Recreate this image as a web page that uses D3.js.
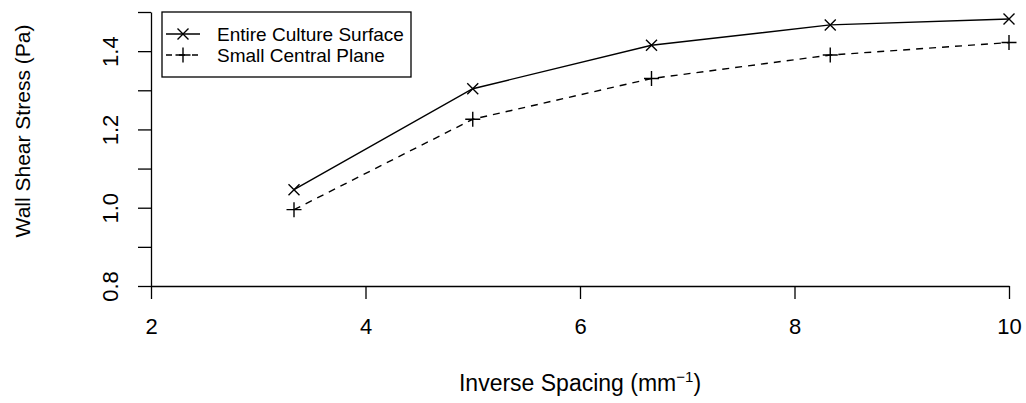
<!DOCTYPE html>
<html>
<head>
<style>
body { margin: 0; background: #fff; }
svg text { font-family: "Liberation Sans", Arial, sans-serif; fill: #000; }
</style>
</head>
<body>
<svg id="chart"></svg>
<script src="https://cdn.jsdelivr.net/npm/d3@7"></script>
<script>
// inverse spacing values (1/mm)
const spacing = [10/3, 5, 20/3, 25/3, 10];
const entireSurface = [1.046, 1.304, 1.415, 1.467, 1.482];
const centralPlane = [0.995, 1.226, 1.330, 1.390, 1.422];
const xTicks = [2, 4, 6, 8, 10];
const yTicks = [0.8, 0.9, 1.0, 1.1, 1.2, 1.3, 1.4, 1.5];
const yLabels = [0.8, 1.0, 1.2, 1.4];
const legendNames = ["Entire Culture Surface", "Small Central Plane"];

const width = 1026, height = 403;
const fsAxis = 22, fsLegend = 19;

const svg = d3.select("#chart").attr("width", width).attr("height", height);

const x = d3.scaleLinear().domain([2, 10]).range([151, 1009]);
const y = d3.scaleLinear().domain([0.8, 1.5]).range([286, 12]);

// x axis
const xAxis = svg.append("g")
    .attr("transform", "translate(0," + y(0.8) + ")")
    .call(d3.axisBottom(x).tickValues(xTicks).tickSize(13).tickSizeOuter(0).tickFormat(d3.format("d")));
xAxis.selectAll("text").attr("y", 0).attr("dy", null)
    .attr("transform", "translate(0,48)")
    .style("font-size", fsAxis + "px");

// y axis, labels rotated like R
const yAxis = svg.append("g")
    .attr("transform", "translate(" + x(2) + ",0)")
    .call(d3.axisLeft(y).tickValues(yTicks).tickSize(13).tickSizeOuter(0)
        .tickFormat(d => yLabels.some(v => Math.abs(v - d) < 1e-9) ? d3.format(".1f")(d) : ""));
yAxis.selectAll("text")
    .attr("x", 0).attr("y", 0).attr("dy", null)
    .attr("text-anchor", "middle")
    .attr("transform", "translate(-33,0) rotate(-90)")
    .style("font-size", fsAxis + "px");

svg.selectAll(".domain, .tick line").attr("stroke", "#000").attr("stroke-width", 1.3);

// axis titles
const xTitle = svg.append("text")
    .attr("x", x(6)).attr("y", 391)
    .attr("text-anchor", "middle")
    .style("font-size", "23px");
xTitle.append("tspan").text("Inverse Spacing (mm");
xTitle.append("tspan").attr("dy", -9).style("font-size", "15px").text("\u22121");
xTitle.append("tspan").attr("dy", 9).text(")");

svg.append("text")
    .attr("transform", "translate(29.5,131) rotate(-90)")
    .attr("text-anchor", "middle")
    .style("font-size", "21px")
    .text("Wall Shear Stress (Pa)");

// series
const line = d3.line().x(d => x(d[0])).y(d => y(d[1]));
const ptsA = spacing.map((s, i) => [s, entireSurface[i]]);
const ptsB = spacing.map((s, i) => [s, centralPlane[i]]);

svg.append("path").datum(ptsA).attr("d", line)
    .attr("fill", "none").attr("stroke", "#000").attr("stroke-width", 1.4);
svg.append("path").datum(ptsB).attr("d", line)
    .attr("fill", "none").attr("stroke", "#000").attr("stroke-width", 1.4)
    .attr("stroke-dasharray", "7,6");

function cross(g, cx, cy) {
    const r = 5.5;
    g.append("path").attr("d", `M${cx-r},${cy-r}L${cx+r},${cy+r}M${cx-r},${cy+r}L${cx+r},${cy-r}`)
        .attr("stroke", "#000").attr("stroke-width", 1.4).attr("fill", "none");
}
function plus(g, cx, cy) {
    const r = 7.5;
    g.append("path").attr("d", `M${cx-r},${cy}L${cx+r},${cy}M${cx},${cy-r}L${cx},${cy+r}`)
        .attr("stroke", "#000").attr("stroke-width", 1.4).attr("fill", "none");
}

const marks = svg.append("g");
ptsA.forEach(p => cross(marks, x(p[0]), y(p[1])));
ptsB.forEach(p => plus(marks, x(p[0]), y(p[1])));

// legend
const lg = svg.append("g");
lg.append("rect").attr("x", 162).attr("y", 12).attr("width", 249).attr("height", 65)
    .attr("fill", "#fff").attr("stroke", "#000").attr("stroke-width", 1.3);
const rowY = [34, 55];
lg.append("line").attr("x1", 166).attr("x2", 200).attr("y1", rowY[0]).attr("y2", rowY[0])
    .attr("stroke", "#000").attr("stroke-width", 1.4);
cross(lg, 183, rowY[0]);
lg.append("line").attr("x1", 166).attr("x2", 200).attr("y1", rowY[1]).attr("y2", rowY[1])
    .attr("stroke", "#000").attr("stroke-width", 1.4).attr("stroke-dasharray", "6,7");
plus(lg, 183, rowY[1]);
legendNames.forEach((n, i) => {
    lg.append("text").attr("x", 217).attr("y", rowY[i] + 7)
        .style("font-size", fsLegend + "px").text(n);
});
</script>
</body>
</html>
